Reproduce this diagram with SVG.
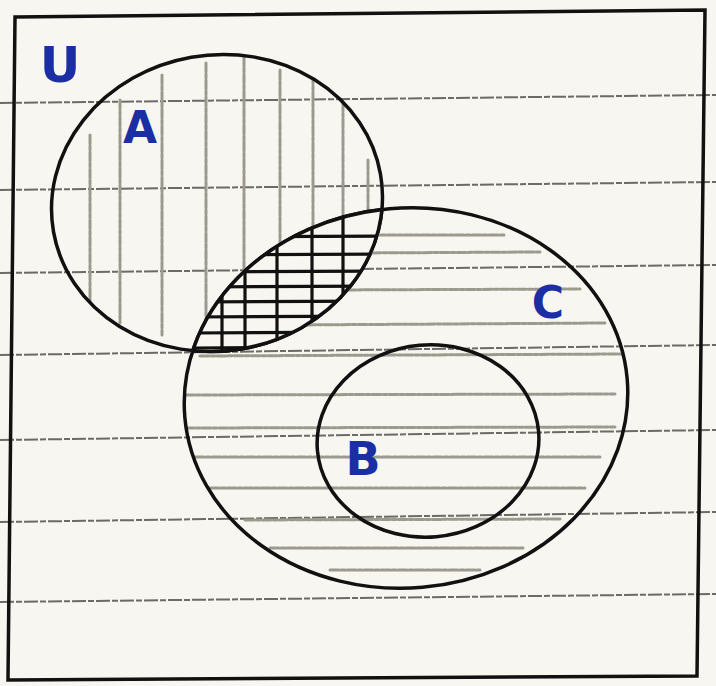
<svg xmlns="http://www.w3.org/2000/svg" width="716" height="686" viewBox="0 0 716 686">
<style>
.paper{stroke:#6b6a66;stroke-width:2;stroke-dasharray:14 2 6 2}
.outline{fill:none;stroke:#111;stroke-width:3.5}
.hatch{stroke:#9c9a8c;stroke-width:3;stroke-linecap:round;stroke-dasharray:9 2 4 2}
.cross{stroke:#111;stroke-width:3.2}
.lbl{font-family:"DejaVu Sans","Liberation Sans",sans-serif;font-weight:bold;fill:#1b2ea3}
</style>
<defs>
<clipPath id="clipA"><ellipse cx="217" cy="203" rx="166" ry="148" transform="rotate(-10 217 203)"/></clipPath>
<clipPath id="clipC"><ellipse cx="406" cy="398" rx="222" ry="190" transform="rotate(-5 406 398)"/></clipPath>
</defs>
<rect width="716" height="686" fill="#f8f6f1"/>
<g id="paper-lines">
<line class="paper" x1="0" y1="103" x2="716" y2="95"/>
<line class="paper" x1="0" y1="190" x2="716" y2="182"/>
<line class="paper" x1="0" y1="273" x2="716" y2="265"/>
<line class="paper" x1="0" y1="355" x2="716" y2="345"/>
<line class="paper" x1="0" y1="440" x2="716" y2="430"/>
<line class="paper" x1="0" y1="522" x2="716" y2="512"/>
<line class="paper" x1="0" y1="602" x2="716" y2="594"/>
</g>
<g id="universe">
<path class="outline" d="M15 17 L705 10 L697 676 L8 680 Z" stroke-width="4"/>
<text class="lbl" x="60" y="82" font-size="50" text-anchor="middle">U</text>
</g>
<g id="setA">
<g clip-path="url(#clipA)">
<line class="hatch" x1="90" y1="135" x2="90" y2="313"/>
<line class="hatch" x1="120" y1="100" x2="120" y2="323"/>
<line class="hatch" x1="162" y1="75" x2="162" y2="335"/>
<line class="hatch" x1="206" y1="63" x2="206" y2="335"/>
<line class="hatch" x1="244" y1="57" x2="244" y2="278"/>
<line class="hatch" x1="280" y1="70" x2="280" y2="250"/>
<line class="hatch" x1="313" y1="75" x2="313" y2="232"/>
<line class="hatch" x1="343" y1="85" x2="343" y2="225"/>
<line class="hatch" x1="368" y1="160" x2="368" y2="215"/>
</g>
<ellipse class="outline" cx="217" cy="203" rx="166" ry="148" transform="rotate(-10 217 203)"/>
<text class="lbl" x="140" y="143" font-size="44" text-anchor="middle">A</text>
</g>
<g id="setC">
<g clip-path="url(#clipC)">
<line class="hatch" x1="370" y1="235" x2="505" y2="235"/>
<line class="hatch" x1="355" y1="253" x2="540" y2="252"/>
<line class="hatch" x1="330" y1="290" x2="580" y2="289"/>
<line class="hatch" x1="290" y1="325" x2="605" y2="323"/>
<line class="hatch" x1="200" y1="356" x2="625" y2="354"/>
<line class="hatch" x1="185" y1="395" x2="615" y2="394"/>
<line class="hatch" x1="185" y1="428" x2="615" y2="427"/>
<line class="hatch" x1="195" y1="457" x2="600" y2="457"/>
<line class="hatch" x1="210" y1="488" x2="585" y2="488"/>
<line class="hatch" x1="245" y1="520" x2="560" y2="519"/>
<line class="hatch" x1="270" y1="548" x2="525" y2="548"/>
<line class="hatch" x1="330" y1="570" x2="480" y2="570"/>
</g>
<ellipse class="outline" cx="406" cy="398" rx="222" ry="190" transform="rotate(-5 406 398)"/>
<text class="lbl" x="548" y="318" font-size="44" text-anchor="middle">C</text>
</g>
<g id="intersection">
<g clip-path="url(#clipA)"><g clip-path="url(#clipC)">
<rect x="190" y="200" width="200" height="170" fill="#f8f6f1"/>
<line class="cross" x1="222" y1="200" x2="222" y2="370"/>
<line class="cross" x1="245" y1="200" x2="245" y2="370"/>
<line class="cross" x1="277" y1="200" x2="277" y2="370"/>
<line class="cross" x1="312" y1="200" x2="312" y2="370"/>
<line class="cross" x1="343" y1="200" x2="343" y2="370"/>
<line class="cross" x1="190" y1="237" x2="390" y2="236"/>
<line class="cross" x1="190" y1="255" x2="390" y2="254"/>
<line class="cross" x1="190" y1="272" x2="390" y2="271"/>
<line class="cross" x1="190" y1="287" x2="390" y2="286"/>
<line class="cross" x1="190" y1="302" x2="390" y2="301"/>
<line class="cross" x1="190" y1="317" x2="390" y2="316"/>
<line class="cross" x1="190" y1="333" x2="390" y2="332"/>
<line class="cross" x1="190" y1="348" x2="390" y2="347"/>
</g></g>
<g clip-path="url(#clipC)"><ellipse class="outline" cx="217" cy="203" rx="166" ry="148" transform="rotate(-10 217 203)"/></g>
<g clip-path="url(#clipA)"><ellipse class="outline" cx="406" cy="398" rx="222" ry="190" transform="rotate(-5 406 398)"/></g>
</g>
<g id="setB">
<ellipse class="outline" cx="428" cy="441" rx="111" ry="96" transform="rotate(-5 428 441)"/>
<text class="lbl" x="363" y="475" font-size="46" text-anchor="middle">B</text>
</g>
</svg>
